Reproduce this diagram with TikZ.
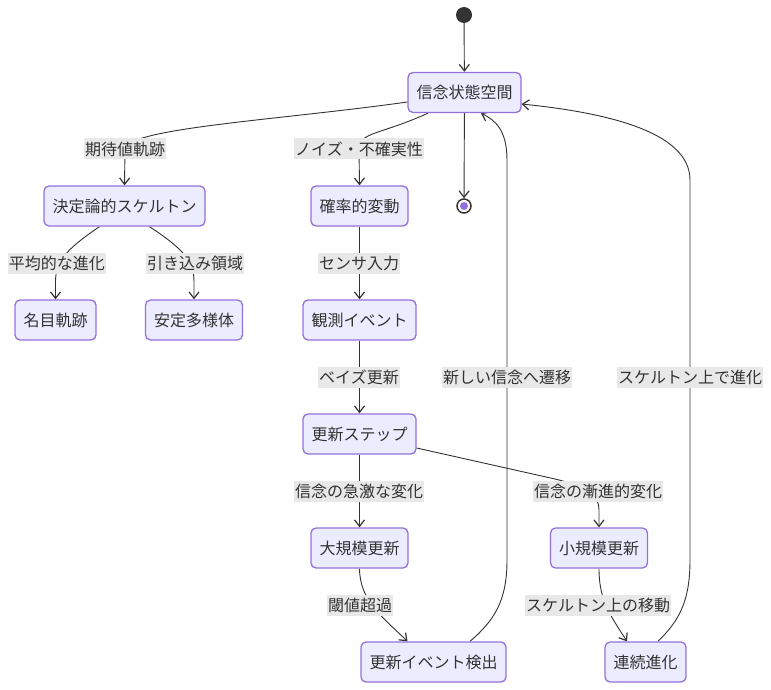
\documentclass[tikz,border=0pt]{standalone}
\usepackage{fontspec}
\setmainfont{Noto Sans CJK JP}
\usetikzlibrary{arrows.meta}
\pgfdeclarelayer{bg}
\pgfsetlayers{bg,main}
\definecolor{boxfill}{HTML}{ECECFF}
\definecolor{boxline}{HTML}{9370DB}
\definecolor{ink}{HTML}{333333}
\definecolor{lblfill}{HTML}{E8E8E8}
\tikzset{
    state/.style={rectangle,rounded corners=5pt,draw=boxline,fill=boxfill,line width=1.3pt,
        minimum height=40pt,inner xsep=8.5pt,inner ysep=0pt,text=ink},
    lbl/.style={fill=lblfill,text=ink,inner xsep=1pt,inner ysep=0pt,minimum height=21pt},
    arr/.style={draw=ink,line width=0.9pt,-{Straight Barb[length=6.5pt,width=10pt,line width=1.2pt]}}
}
\begin{document}
\begin{tikzpicture}[x=1pt,y=-1pt,font=\fontsize{16}{19}\selectfont]
        \useasboundingbox (0,0) rectangle (771,690);
        \begin{scope}[every node/.style=state]
            \node (belief)  at (464.5,92.5) {信念状態空間};
            \node (skel)    at (124.5,206)  {決定論的スケルトン};
            \node (noise)   at (359.5,206)  {確率的変動};
            \node (nominal) at (55.5,320)   {名目軌跡};
            \node (stable)  at (194,320)    {安定多様体};
            \node (obs)     at (359.5,320)  {観測イベント};
            \node (update)  at (359.5,434)  {更新ステップ};
            \node (big)     at (359.5,548)  {大規模更新};
            \node (small)   at (599,548)    {小規模更新};
            \node (detect)  at (433.5,662)  {更新イベント検出};
            \node (cont)    at (645.5,662)  {連続進化};
        \end{scope}
        \node (start) [circle,fill=ink,inner sep=0pt,minimum size=16pt] at (464,15) {};
        \node (stop)  [circle,draw=ink,fill=white,line width=1.5pt,inner sep=0pt,minimum size=14pt] at (464,206) {};
        \fill[boxline] (stop) circle (4);
        \begin{scope}[every node/.style=lbl]
            \node (lexp)   at (125,149) {期待値軌跡};
            \node (lnoise) at (359,149) {ノイズ・不確実性};
            \node (lmean)  at (57,263)  {平均的な進化};
            \node (lbasin) at (195,263) {引き込み領域};
            \node (lsens)  at (359,263) {センサ入力};
            \node (lbayes) at (359,377) {ベイズ更新};
            \node (ljump)  at (359,491) {信念の急激な変化};
            \node (lgrad)  at (598,491) {信念の漸進的変化};
            \node (lthr)   at (360,605) {閾値超過};
            \node (lmove)  at (598,605) {スケルトン上の移動};
            \node (lnew)   at (507,377) {新しい信念へ遷移};
            \node (levol)  at (690,377) {スケルトン上で進化};
        \end{scope}
        \begin{pgfonlayer}{bg}
            \begin{scope}[every edge/.style=arr]
                \path
                    (start) edge (belief)
                    (belief) edge (stop)
                    (noise) edge (obs)
                    (obs) edge (update)
                    (update) edge (big);
            \end{scope}
            % curved transitions
            \draw[arr] ([yshift=-9.5pt]belief.west) .. controls (280,120) and (128,128) .. (lexp.center) -- (skel.north);
            \draw[arr] ([xshift=-36.5pt]belief.south) .. controls (380,135) and (359,132) .. (lnoise.center) -- (noise.north);
            \draw[arr] ([xshift=-25pt]skel.south) .. controls (65,250) and (55.5,262) .. (55.5,282) -- (nominal.north);
            \draw[arr] ([xshift=25pt]skel.south) .. controls (185,250) and (194,262) .. (194,282) -- (stable.north);
            \draw[arr] ([yshift=-14pt]update.east) -- (555,479) .. controls (588,487) and (599,495) .. (599,510) -- (small.north);
            \draw[arr] (big.south) .. controls (360,600) and (380,615) .. ([xshift=-26pt]detect.north);
            \draw[arr] (small.south) .. controls (599,600) and (610,615) .. ([xshift=-18.5pt]cont.north);
            \draw[arr] ([xshift=36.5pt]detect.north) .. controls (495,620) and (507,600) .. (507,560) -- (507,160) .. controls (507,130) and (495,120) .. ([xshift=16.5pt]belief.south);
            \draw[arr] ([xshift=12.5pt]cont.north) .. controls (680,620) and (690,600) .. (690,560) -- (690,180) .. controls (690,130) and (600,112) .. ([yshift=-11.5pt]belief.east);
        \end{pgfonlayer}
    \end{tikzpicture}
\end{document}
